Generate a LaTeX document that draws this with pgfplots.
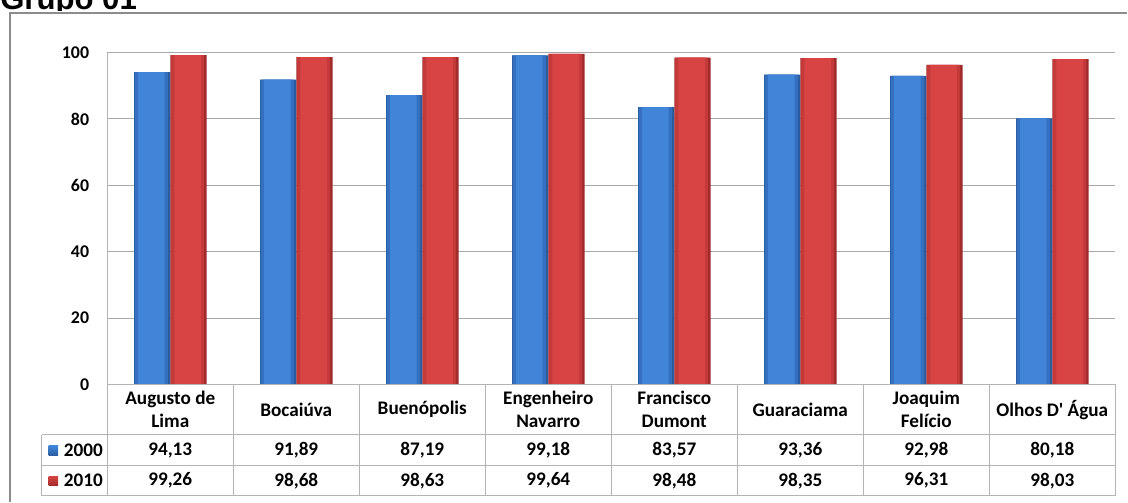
\documentclass[border=0pt]{standalone}
\usepackage{fontspec}
\setmainfont{Carlito}
\newfontfamily\titlefont{Liberation Sans}
\usepackage{pgfplots}
\usepackage{pgfplotstable}
\pgfplotsset{compat=1.18}
\definecolor{gridc}{HTML}{A9A9A9}
\definecolor{tablec}{HTML}{B4B4B4}
\definecolor{framec}{HTML}{8C8C8C}
\definecolor{bA}{HTML}{3570C0}
\definecolor{bB}{HTML}{4085D8}
\definecolor{bC}{HTML}{2A5C9F}
\definecolor{rA}{HTML}{C43A3A}
\definecolor{rB}{HTML}{D84444}
\definecolor{rC}{HTML}{A02A2A}
\pgfplotstableread{
idx y2000 y2010
0 94.13 99.26
1 91.89 98.68
2 87.19 98.63
3 99.18 99.64
4 83.57 98.48
5 93.36 98.35
6 92.98 96.31
7 80.18 98.03
}\data
\begin{document}
\begin{tikzpicture}
\begin{scope}[x=0.75pt,y=-0.75pt]
\useasboundingbox (0,0) rectangle (1128,499);
\end{scope}
\begin{axis}[
  at={(81pt,-290.25pt)}, anchor=south west,
  scale only axis, width=761.25pt, height=250.5pt,
  xmin=-0.5, xmax=7.5, ymin=0, ymax=100,
  ytick={0,20,...,100}, xtick=\empty,
  axis lines*=left, axis line style={draw=none},
  major tick length=0pt, tick style={draw=none},
  ymajorgrids, grid style={gridc, line width=0.75pt},
  yticklabel style={font=\fontsize{13.5}{16}\selectfont\bfseries, anchor=east, inner sep=0pt, xshift=-13.5pt},
  /pgf/number format/assume math mode=true,
  ybar, clip=false,
]
% 2000 series: dark edge, then body
\addplot[ybar, draw=none, fill=bC, bar width=27.375pt, bar shift=-13.69pt] table[x=idx,y=y2000]{\data};
\addplot[ybar, draw=none, fill=bA, bar width=25pt, bar shift=-14.3pt] table[x=idx,y=y2000]{\data};
\addplot[ybar, draw=none, fill=bB, bar width=20pt, bar shift=-14.3pt] table[x=idx,y=y2000]{\data};
% 2010 series
\addplot[ybar, draw=none, fill=rC, bar width=27.375pt, bar shift=13.69pt] table[x=idx,y=y2010]{\data};
\addplot[ybar, draw=none, fill=rA, bar width=25pt, bar shift=13.1pt] table[x=idx,y=y2010]{\data};
\addplot[ybar, draw=none, fill=rB, bar width=20pt, bar shift=13.1pt] table[x=idx,y=y2010]{\data};
\end{axis}
\begin{scope}[x=0.75pt,y=-0.75pt]
  \begin{scope}[tablec, line width=0.75pt]
    \draw (108,53) -- (108,499);
    \draw (108,387) -- (1123,387);
    \draw (42,438) -- (1123,438);
    \draw (42,469) -- (1123,469);
    \draw (42,498.5) -- (1123,498.5);
    \draw (42,438) -- (42,499);
    \foreach \k in {1,...,8} \draw (108+126.875*\k,387) -- (108+126.875*\k,499);
  \end{scope}
  \foreach \c [count=\i from 0] in {Augusto de\\Lima, Bocaiúva, Buenópolis, Engenheiro\\Navarro, Francisco\\Dumont, Guaraciama, Joaquim\\Felício, Olhos D\textquotesingle{} Água}
    \node[align=center, font=\fontsize{14.5}{17.2}\selectfont\bfseries, inner sep=0pt] at (108+126.875*\i+63.44,412.5) {\c};
  \foreach \i in {0,...,7} {
    \pgfplotstablegetelem{\i}{y2000}\of\data
    \node[font=\fontsize{14.5}{17}\selectfont\bfseries, inner sep=0pt] at (108+126.875*\i+63.44,453.5) {\pgfmathprintnumber[fixed,fixed zerofill,precision=2,use comma,assume math mode=true]{\pgfplotsretval}};
    \pgfplotstablegetelem{\i}{y2010}\of\data
    \node[font=\fontsize{14.5}{17}\selectfont\bfseries, inner sep=0pt] at (108+126.875*\i+63.44,484) {\pgfmathprintnumber[fixed,fixed zerofill,precision=2,use comma,assume math mode=true]{\pgfplotsretval}};
  }
  \shade[top color=bB, bottom color=bC] (49,449) rectangle (58.5,458.5);
  \shade[top color=rB, bottom color=rC] (49,479.5) rectangle (58.5,489);
  \node[anchor=west, font=\fontsize{14.5}{17}\selectfont\bfseries, inner sep=0pt] at (64,453.5) {2000};
  \node[anchor=west, font=\fontsize{14.5}{17}\selectfont\bfseries, inner sep=0pt] at (64,484) {2010};
  \draw[framec, line width=1.2pt] (10,505) -- (10,13) -- (1135,13);
  \begin{scope}
    \clip (0,0) rectangle (1128,10.5);
    \node[anchor=base west, inner sep=0pt, font=\titlefont\bfseries\fontsize{23.5}{26}\selectfont] at (0,9.5) {Grupo 01};
  \end{scope}
\end{scope}
\end{tikzpicture}
\end{document}
